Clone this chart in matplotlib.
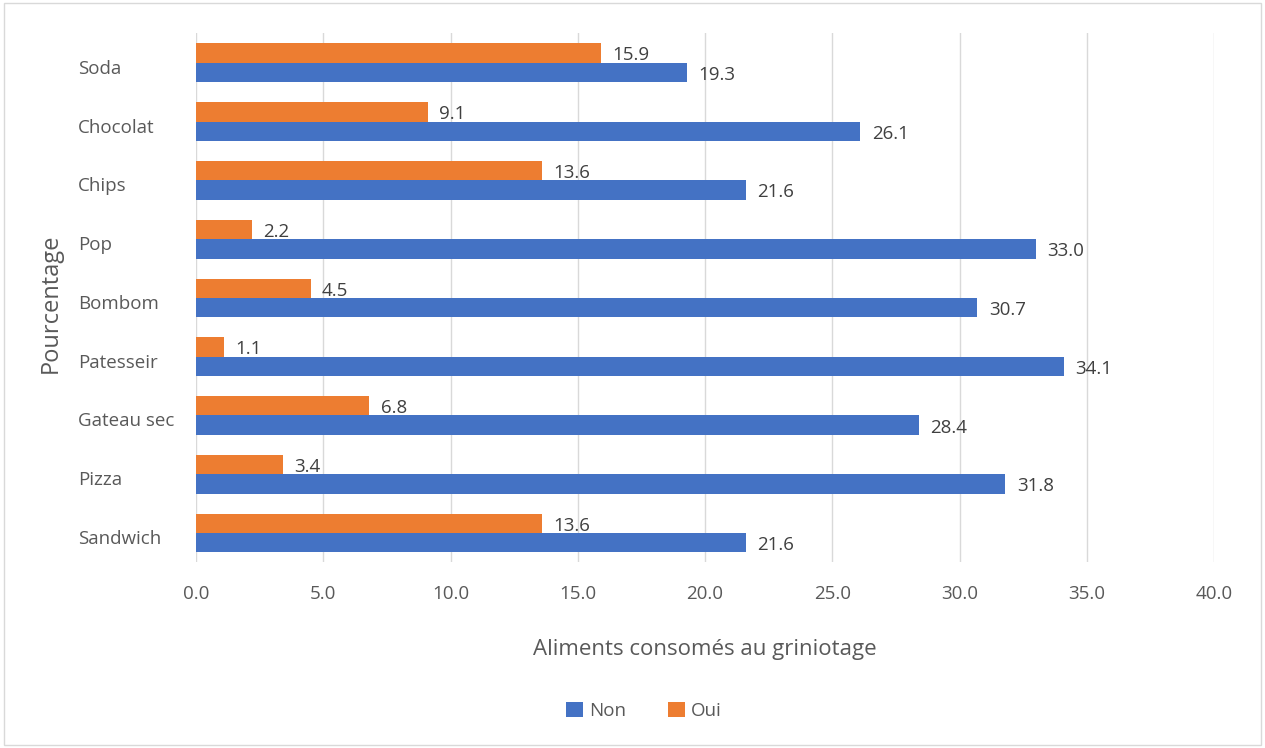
import matplotlib.pyplot as plt
import matplotlib.transforms as mtrans
import numpy as np

# données
categories = ['Sandwich', 'Pizza', 'Gateau sec', 'Patesseir', 'Bombom', 'Pop', 'Chips', 'Chocolat', 'Soda']
non = [21.6, 31.8, 28.4, 34.1, 30.7, 33.0, 21.6, 26.1, 19.3]
oui = [13.6, 3.4, 6.8, 1.1, 4.5, 2.2, 13.6, 9.1, 15.9]
xticks = [0, 5, 10, 15, 20, 25, 30, 35, 40]

plt.rcParams['font.family'] = ['Open Sans', 'DejaVu Sans']
gris = '#595959'
bleu = '#4472C4'
orange = '#ED7D31'

fig = plt.figure(figsize=(12.65, 7.48), dpi=100)
ax = fig.add_axes([196 / 1265, 1 - 562.4 / 748, 1018 / 1265, 529 / 748])

y = np.arange(len(categories))
h = 0.33
b_non = ax.barh(y - h / 2, non, height=h, color=bleu, label='Non', zorder=3)
b_oui = ax.barh(y + h / 2, oui, height=h, color=orange, label='Oui', zorder=3)

# étiquettes de valeurs
for bars, vals in ((b_non, non), (b_oui, oui)):
    for bar, v in zip(bars, vals):
        ax.text(v + 0.45, bar.get_y() + bar.get_height() / 2 - 0.04, f'{v:.1f}',
                va='center', ha='left', fontsize=13.5, color='#404040', zorder=4)

ax.set_xlim(0, 40)
ax.set_ylim(-0.5, len(categories) - 0.5)
ax.set_xticks(xticks)
ax.set_xticklabels([f'{t:.1f}' for t in xticks])
ax.set_yticks(y)
ax.set_yticklabels(categories)
ax.tick_params(axis='both', length=0, labelsize=13.5, labelcolor=gris)
ax.tick_params(axis='x', pad=16)
ax.tick_params(axis='y', pad=85)
decal = mtrans.ScaledTranslation(0, -4 / 100, fig.dpi_scale_trans)
for lbl in ax.get_yticklabels():
    lbl.set_horizontalalignment('left')
    lbl.set_transform(lbl.get_transform() + decal)
ax.grid(axis='x', color='#D9D9D9', linewidth=1, zorder=0)
for s in ax.spines.values():
    s.set_visible(False)

ax.set_xlabel('Aliments consomés au griniotage', fontsize=16, color=gris, labelpad=26)
fig.text(51 / 1265, 1 - 303 / 748, 'Pourcentage', rotation=90, fontsize=17,
         color=gris, ha='center', va='center')

leg = fig.legend(handles=[b_non, b_oui], loc='center', bbox_to_anchor=(0.509, 1 - 711 / 748),
                 ncol=2, frameon=False, fontsize=13.5, handlelength=0.9, handleheight=0.9,
                 columnspacing=2.2, handletextpad=0.35)
for t in leg.get_texts():
    t.set_color(gris)

# cadre autour de la figure
fig.patches.append(plt.Rectangle((0.003, 0.004), 0.994, 0.992, transform=fig.transFigure,
                                 fill=False, edgecolor='#D9D9D9', linewidth=1))

fig.savefig('out.png', dpi=100)
